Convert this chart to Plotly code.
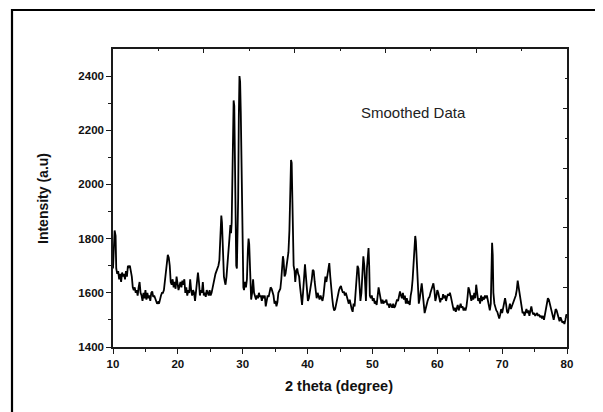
import plotly.graph_objects as go

two_theta = [
    10.0, 10.1, 10.25, 10.4, 10.5, 10.65, 10.8, 10.95, 11.1, 11.25,
    11.4, 11.55, 11.7, 11.85, 12.0, 12.15, 12.3, 12.45, 12.6, 12.75,
    12.9, 13.05, 13.2, 13.35, 13.5, 13.65, 13.8, 13.95, 14.1, 14.25,
    14.4, 14.55, 14.7, 14.85, 15.0, 15.15, 15.3, 15.45, 15.6, 15.75,
    15.9, 16.05, 16.2, 16.35, 16.5, 16.65, 16.8, 16.95, 17.1, 17.25,
    17.4, 17.55, 17.7, 17.85, 18.0, 18.15, 18.3, 18.45, 18.6, 18.75,
    18.9, 19.05, 19.2, 19.35, 19.5, 19.65, 19.8, 19.95, 20.1, 20.25,
    20.4, 20.55, 20.7, 20.85, 21.0, 21.15, 21.3, 21.45, 21.6, 21.75,
    21.9, 22.05, 22.2, 22.35, 22.5, 22.65, 22.8, 22.95, 23.1, 23.25,
    23.4, 23.55, 23.7, 23.85, 24.0, 24.15, 24.3, 24.45, 24.6, 24.75,
    24.9, 25.05, 25.2, 25.35, 25.5, 25.65, 25.8, 25.95, 26.1, 26.25,
    26.4, 26.55, 26.7, 26.8, 26.95, 27.1, 27.25, 27.35, 27.5, 27.65,
    27.8, 27.95, 28.1, 28.2, 28.3, 28.4, 28.5, 28.6, 28.7, 28.8,
    28.9, 29.0, 29.1, 29.2, 29.3, 29.4, 29.5, 29.6, 29.7, 29.8,
    29.9, 30.0, 30.1, 30.2, 30.35, 30.5, 30.65, 30.8, 30.9, 31.0,
    31.1, 31.2, 31.3, 31.45, 31.6, 31.75, 31.9, 32.05, 32.2, 32.35,
    32.5, 32.65, 32.8, 32.95, 33.1, 33.25, 33.4, 33.55, 33.7, 33.85,
    34.0, 34.15, 34.3, 34.45, 34.6, 34.75, 34.9, 35.05, 35.2, 35.35,
    35.5, 35.65, 35.8, 35.95, 36.1, 36.2, 36.3, 36.45, 36.6, 36.75,
    36.9, 37.05, 37.2, 37.35, 37.45, 37.55, 37.65, 37.75, 37.85, 38.0,
    38.1, 38.25, 38.4, 38.55, 38.7, 38.85, 39.0, 39.15, 39.3, 39.45,
    39.6, 39.75, 39.9, 40.05, 40.2, 40.35, 40.5, 40.65, 40.8, 40.95,
    41.1, 41.25, 41.4, 41.55, 41.7, 41.85, 42.0, 42.15, 42.3, 42.45,
    42.6, 42.75, 42.9, 43.05, 43.2, 43.35, 43.5, 43.65, 43.8, 43.95,
    44.1, 44.25, 44.4, 44.55, 44.7, 44.85, 45.0, 45.15, 45.3, 45.45,
    45.6, 45.75, 45.9, 46.05, 46.2, 46.35, 46.5, 46.65, 46.8, 46.95,
    47.1, 47.25, 47.4, 47.55, 47.7, 47.85, 48.0, 48.15, 48.3, 48.45,
    48.6, 48.75, 48.9, 49.0, 49.15, 49.3, 49.4, 49.5, 49.6, 49.75,
    49.9, 50.05, 50.2, 50.35, 50.5, 50.65, 50.8, 50.95, 51.1, 51.25,
    51.4, 51.55, 51.7, 51.85, 52.0, 52.15, 52.3, 52.45, 52.6, 52.75,
    52.9, 53.05, 53.2, 53.35, 53.5, 53.65, 53.8, 53.95, 54.1, 54.25,
    54.4, 54.55, 54.7, 54.85, 55.0, 55.15, 55.3, 55.45, 55.6, 55.75,
    55.9, 56.05, 56.2, 56.35, 56.5, 56.6, 56.7, 56.85, 57.0, 57.15,
    57.3, 57.45, 57.6, 57.75, 57.9, 58.05, 58.2, 58.35, 58.5, 58.65,
    58.8, 58.95, 59.1, 59.25, 59.4, 59.55, 59.7, 59.85, 60.0, 60.15,
    60.3, 60.45, 60.6, 60.75, 60.9, 61.05, 61.2, 61.35, 61.5, 61.65,
    61.8, 61.95, 62.1, 62.25, 62.4, 62.55, 62.7, 62.85, 63.0, 63.15,
    63.3, 63.45, 63.6, 63.75, 63.9, 64.05, 64.2, 64.35, 64.5, 64.65,
    64.8, 64.95, 65.1, 65.25, 65.4, 65.55, 65.7, 65.85, 66.0, 66.15,
    66.3, 66.45, 66.6, 66.75, 66.9, 67.05, 67.2, 67.35, 67.5, 67.65,
    67.8, 67.95, 68.1, 68.25, 68.35, 68.45, 68.55, 68.65, 68.8, 68.95,
    69.1, 69.25, 69.4, 69.55, 69.7, 69.85, 70.0, 70.15, 70.3, 70.45,
    70.6, 70.75, 70.9, 71.05, 71.2, 71.35, 71.5, 71.65, 71.8, 71.95,
    72.1, 72.25, 72.4, 72.55, 72.7, 72.85, 73.0, 73.15, 73.3, 73.45,
    73.6, 73.75, 73.9, 74.05, 74.2, 74.35, 74.5, 74.65, 74.8, 74.95,
    75.1, 75.25, 75.4, 75.55, 75.7, 75.85, 76.0, 76.15, 76.3, 76.45,
    76.6, 76.75, 76.9, 77.05, 77.2, 77.35, 77.5, 77.65, 77.8, 77.95,
    78.1, 78.25, 78.4, 78.55, 78.7, 78.85, 79.0, 79.15, 79.3, 79.45,
    79.6, 79.75, 79.9, 80.0,
]

intensity = [
    1690, 1760, 1830, 1810, 1690, 1670, 1680, 1650, 1670, 1640,
    1675, 1660, 1670, 1650, 1680, 1660, 1700, 1695, 1700, 1680,
    1660, 1620, 1610, 1620, 1600, 1610, 1590, 1620, 1640, 1600,
    1590, 1570, 1600, 1580, 1610, 1575, 1600, 1580, 1590, 1570,
    1600, 1605, 1585, 1590, 1575, 1570, 1560, 1565, 1560, 1580,
    1590, 1600, 1600, 1610, 1640, 1690, 1700, 1740, 1730, 1700,
    1640, 1630, 1650, 1620, 1640, 1615, 1660, 1630, 1610, 1625,
    1640, 1620, 1645, 1630, 1650, 1600, 1620, 1590, 1610, 1600,
    1650, 1610, 1590, 1610, 1600, 1570, 1600, 1650, 1675, 1640,
    1590, 1610, 1600, 1640, 1590, 1600, 1585, 1610, 1600, 1590,
    1610, 1590, 1600, 1620, 1640, 1650, 1670, 1680, 1690, 1700,
    1720, 1800, 1885, 1860, 1720, 1660, 1640, 1630, 1660, 1720,
    1760, 1800, 1850, 1820, 1860, 2000, 2240, 2310, 2290, 2050,
    1800, 1700, 1690, 1820, 1950, 2250, 2400, 2380, 2270, 2100,
    1850, 1700, 1620, 1610, 1640, 1620, 1650, 1760, 1800, 1780,
    1700, 1610, 1575, 1600, 1650, 1600, 1590, 1575, 1590, 1580,
    1600, 1585, 1590, 1570, 1590, 1580, 1590, 1550, 1570, 1590,
    1585, 1600, 1620, 1615, 1600, 1590, 1560, 1570, 1550, 1565,
    1600, 1610, 1615, 1650, 1700, 1735, 1720, 1660, 1670, 1700,
    1710, 1750, 1830, 2050, 2090, 2080, 1950, 1800, 1700, 1680,
    1640, 1680, 1690, 1670, 1660, 1620, 1590, 1555, 1600, 1650,
    1705, 1660, 1600, 1570, 1580, 1600, 1620, 1650, 1685, 1680,
    1640, 1610, 1580, 1600, 1590, 1575, 1590, 1580, 1570, 1590,
    1620, 1660, 1640, 1670, 1690, 1710, 1660, 1600, 1580, 1550,
    1535, 1540, 1560, 1580, 1600, 1610, 1620, 1625, 1610, 1600,
    1605, 1590, 1600, 1585, 1570, 1560, 1575, 1550, 1540, 1530,
    1560, 1550, 1600, 1640, 1700, 1690, 1620, 1570, 1600, 1680,
    1735, 1700, 1600, 1570, 1690, 1740, 1765, 1700, 1590, 1580,
    1590, 1570, 1580, 1560, 1570, 1555, 1590, 1620, 1600, 1570,
    1560, 1575, 1560, 1570, 1565, 1575, 1555, 1560, 1545, 1560,
    1550, 1545, 1560, 1545, 1550, 1560, 1575, 1570, 1590, 1605,
    1590, 1580, 1600, 1575, 1590, 1560, 1580, 1560, 1570, 1555,
    1590, 1610, 1650, 1720, 1800, 1810, 1790, 1700, 1620, 1560,
    1580, 1600, 1635, 1600, 1550, 1525, 1540, 1560, 1570, 1580,
    1585, 1600, 1615, 1630, 1635, 1610, 1570, 1585, 1610, 1600,
    1575, 1565, 1580, 1575, 1595, 1580, 1590, 1570, 1585, 1595,
    1590, 1600, 1585, 1560, 1550, 1535, 1545, 1530, 1540, 1555,
    1535, 1545, 1560, 1545, 1550, 1535, 1545, 1535, 1550, 1580,
    1620, 1610, 1580, 1570, 1590, 1575, 1600, 1580, 1630, 1600,
    1570, 1580, 1560, 1590, 1570, 1585, 1575, 1590, 1580, 1590,
    1570, 1540, 1535, 1560, 1700, 1785, 1740, 1600, 1560, 1545,
    1535, 1530, 1515, 1505, 1520, 1540, 1525, 1545, 1560, 1580,
    1560, 1530, 1525, 1545, 1560, 1540, 1550, 1565, 1570, 1585,
    1590, 1610, 1645, 1620, 1590, 1580, 1550, 1525, 1530, 1515,
    1530, 1540, 1525, 1535, 1515, 1530, 1550, 1530, 1520, 1525,
    1515, 1520, 1525, 1515, 1520, 1510, 1515, 1505, 1515, 1500,
    1520, 1550, 1570, 1580, 1575, 1560, 1540, 1520, 1510, 1500,
    1520, 1540, 1535, 1520, 1505, 1495, 1510, 1500, 1490, 1495,
    1485, 1500, 1520, 1515,
]

x_ticks = [10, 20, 30, 40, 50, 60, 70, 80]
y_ticks = [1400, 1600, 1800, 2000, 2200, 2400]
x_title = "2 theta (degree)"
y_title = "Intensity (a.u)"
note_text = "Smoothed Data"

FONT = "Liberation Sans, Arial, sans-serif"
AX = "#1a1a1a"

# page body has an 8px default margin; figure is sized/offset to compensate
OFF = 8
W, H = 603 - OFF, 412 - OFF
L, T, R, B = 113 - OFF, 49 - OFF, 36, 65
PW, PH = W - L - R, H - T - B

fig = go.Figure()
fig.add_trace(go.Scatter(
    x=two_theta, y=intensity, mode="lines",
    line=dict(color="black", width=1.8), showlegend=False, hoverinfo="skip",
))
# empty trace so the top/right frame axes are drawn
fig.add_trace(go.Scatter(x=[], y=[], xaxis="x2", yaxis="y2", showlegend=False))

tickfont = dict(family=FONT, size=11.5, color="#111", weight="bold")

fig.update_layout(
    width=W, height=H,
    margin=dict(l=L, r=R, t=T, b=B, pad=0),
    paper_bgcolor="white", plot_bgcolor="white",
    xaxis=dict(
        range=[10, 80], tickvals=x_ticks, ticktext=[str(v) for v in x_ticks],
        ticks="outside", ticklen=5, tickwidth=1.2, tickcolor=AX,
        minor=dict(tickvals=[15, 25, 35, 45, 55, 65, 75], ticks="outside", ticklen=3, tickwidth=1.2, tickcolor=AX),
        showline=True, linecolor=AX, linewidth=1.5, showgrid=False, zeroline=False,
        tickfont=tickfont,
    ),
    yaxis=dict(
        range=[1400, 2500], tickvals=y_ticks, ticktext=[str(v) for v in y_ticks],
        ticks="outside", ticklen=5, tickwidth=1.2, tickcolor=AX,
        minor=dict(tickvals=[1500, 1700, 1900, 2100, 2300], ticks="outside", ticklen=3, tickwidth=1.2, tickcolor=AX),
        showline=True, linecolor=AX, linewidth=1.5, showgrid=False, zeroline=False,
        tickfont=tickfont,
    ),
    xaxis2=dict(
        overlaying="x", side="top", anchor="y", range=[0, 10],
        tickmode="linear", tick0=0, dtick=2, ticks="inside", ticklen=4, tickwidth=1.2, tickcolor=AX,
        minor=dict(tick0=1, dtick=2, ticks="inside", ticklen=2.5, tickwidth=1.2, tickcolor=AX),
        showticklabels=False, showline=True, linecolor=AX, linewidth=1.5,
        showgrid=False, zeroline=False,
    ),
    yaxis2=dict(
        overlaying="y", side="right", anchor="x", range=[0, 10],
        tickmode="linear", tick0=0, dtick=2, ticks="inside", ticklen=4, tickwidth=1.2, tickcolor=AX,
        minor=dict(tick0=1, dtick=2, ticks="inside", ticklen=2.5, tickwidth=1.2, tickcolor=AX),
        showticklabels=False, showline=True, linecolor=AX, linewidth=1.5,
        showgrid=False, zeroline=False,
    ),
    annotations=[
        dict(text=x_title, xref="paper", yref="paper",
             x=(339 - 113) / PW, y=(347 - 385.5) / PH,
             xanchor="center", yanchor="middle", showarrow=False,
             font=dict(family=FONT, size=14.5, color="#111", weight="bold")),
        dict(text=y_title, xref="paper", yref="paper",
             x=(43 - 113) / PW, y=(347 - 199) / PH,
             xanchor="center", yanchor="middle", textangle=-90, showarrow=False,
             font=dict(family=FONT, size=14, color="#111", weight="bold")),
        dict(text=note_text, xref="paper", yref="paper",
             x=(413 - 113) / PW, y=(347 - 112.7) / PH,
             xanchor="center", yanchor="middle", showarrow=False,
             font=dict(family=FONT, size=15, color="#222")),
    ],
    shapes=[
        dict(type="rect", xref="paper", yref="paper",
             x0=(12 - 113) / PW, x1=(620 - 113) / PW,
             y0=(347 - 430) / PH, y1=(347 - 10) / PH,
             line=dict(color="black", width=2.2), fillcolor="rgba(0,0,0,0)", layer="below"),
    ],
)

fig.write_html("out.html")
